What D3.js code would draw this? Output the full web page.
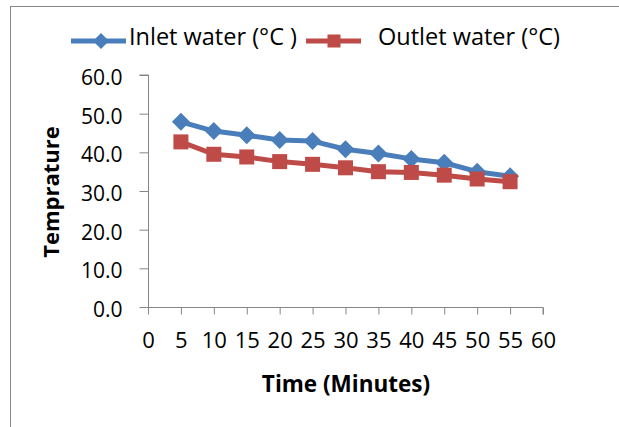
<!DOCTYPE html>
<html>
<head>
<meta charset="utf-8">
<script src="https://cdn.jsdelivr.net/npm/d3@7"></script>
<style>
  body { margin: 0; background: #fff; }
  text { font-family: "Open Sans", sans-serif; }
</style>
</head>
<body>
<div id="chart"></div>
<script>
// data
const minutes = [5, 10, 15, 20, 25, 30, 35, 40, 45, 50, 55];
const inletTemp = [47.9, 45.5, 44.4, 43.2, 42.9, 40.8, 39.7, 38.3, 37.3, 35.0, 33.8];
const outletTemp = [42.7, 39.5, 38.8, 37.6, 36.9, 36.0, 35.0, 34.8, 34.1, 33.1, 32.4];
const seriesNames = ["Inlet water (°C )", "Outlet water (°C)"];
const xTicks = [0, 5, 10, 15, 20, 25, 30, 35, 40, 45, 50, 55, 60];
const yTicks = [0, 10, 20, 30, 40, 50, 60];

const width = 619, height = 427;
const blue = "#4a7ebb", red = "#be4b48", axisCol = "#868686";

const svg = d3.select("#chart").append("svg")
    .attr("width", width)
    .attr("height", height);

// chart frame
svg.append("rect")
    .attr("x", 10.5).attr("y", 6.5)
    .attr("width", 640).attr("height", 440)
    .attr("fill", "none")
    .attr("stroke", axisCol);

const x = d3.scaleLinear().domain([0, 60]).range([148, 543]);
const y = d3.scaleLinear().domain([0, 60]).range([307, 75]);

// y axis
const yAxis = svg.append("g")
    .attr("transform", "translate(148.5,0)")
    .call(d3.axisLeft(y).tickValues(yTicks).tickFormat(d3.format(".1f")).tickSize(9).tickPadding(17));
// x axis
const xAxis = svg.append("g")
    .attr("transform", "translate(0,307.5)")
    .call(d3.axisBottom(x).tickValues(xTicks).tickSize(7).tickPadding(18));

[yAxis, xAxis].forEach(a => {
  a.selectAll("path, line").attr("stroke", axisCol);
  a.selectAll("text")
    .attr("fill", "#000")
    .style("font-family", "'Open Sans', sans-serif");
});
yAxis.selectAll("text").style("font-size", "21px").attr("dy", "0.45em");
xAxis.selectAll("text").style("font-size", "22px");
yAxis.select(".domain").attr("d", "M-9,75H0V307");
xAxis.select(".domain").attr("d", "M148,0H543V7");

// axis titles
svg.append("text")
    .attr("x", 346).attr("y", 392)
    .attr("text-anchor", "middle")
    .style("font-weight", "bold")
    .style("font-size", "22.5px")
    .text("Time (Minutes)");

svg.append("text")
    .attr("transform", "translate(59,192) rotate(-90)")
    .attr("text-anchor", "middle")
    .style("font-weight", "bold")
    .style("font-size", "22px")
    .text("Temprature");

const line = d3.line().x(d => x(d[0])).y(d => y(d[1]));
const inlet = minutes.map((m, i) => [m, inletTemp[i]]);
const outlet = minutes.map((m, i) => [m, outletTemp[i]]);

function diamond(g, cx, cy, r) {
  g.append("path")
    .attr("d", `M${cx},${cy - r}L${cx + r},${cy}L${cx},${cy + r}L${cx - r},${cy}Z`)
    .attr("fill", blue);
}
function square(g, cx, cy, s) {
  g.append("rect")
    .attr("x", cx - s / 2).attr("y", cy - s / 2)
    .attr("width", s).attr("height", s)
    .attr("fill", red);
}

const plot = svg.append("g");
plot.append("path").datum(inlet).attr("d", line)
    .attr("fill", "none").attr("stroke", blue).attr("stroke-width", 5).attr("stroke-linejoin", "round");
inlet.forEach(d => diamond(plot, x(d[0]), y(d[1]), 9));
plot.append("path").datum(outlet).attr("d", line)
    .attr("fill", "none").attr("stroke", red).attr("stroke-width", 5).attr("stroke-linejoin", "round");
outlet.forEach(d => square(plot, x(d[0]), y(d[1]), 15));

// legend
const leg = svg.append("g");
leg.append("line").attr("x1", 71).attr("x2", 126).attr("y1", 41).attr("y2", 41)
    .attr("stroke", blue).attr("stroke-width", 5);
diamond(leg, 101, 41, 8);
leg.append("text").attr("x", 129).attr("y", 45)
    .style("font-size", "23.5px").text(seriesNames[0]);
leg.append("line").attr("x1", 306).attr("x2", 361).attr("y1", 41).attr("y2", 41)
    .attr("stroke", red).attr("stroke-width", 5);
square(leg, 334, 41, 13);
leg.append("text").attr("x", 378).attr("y", 45)
    .style("font-size", "23.5px").text(seriesNames[1]);
</script>
</body>
</html>
